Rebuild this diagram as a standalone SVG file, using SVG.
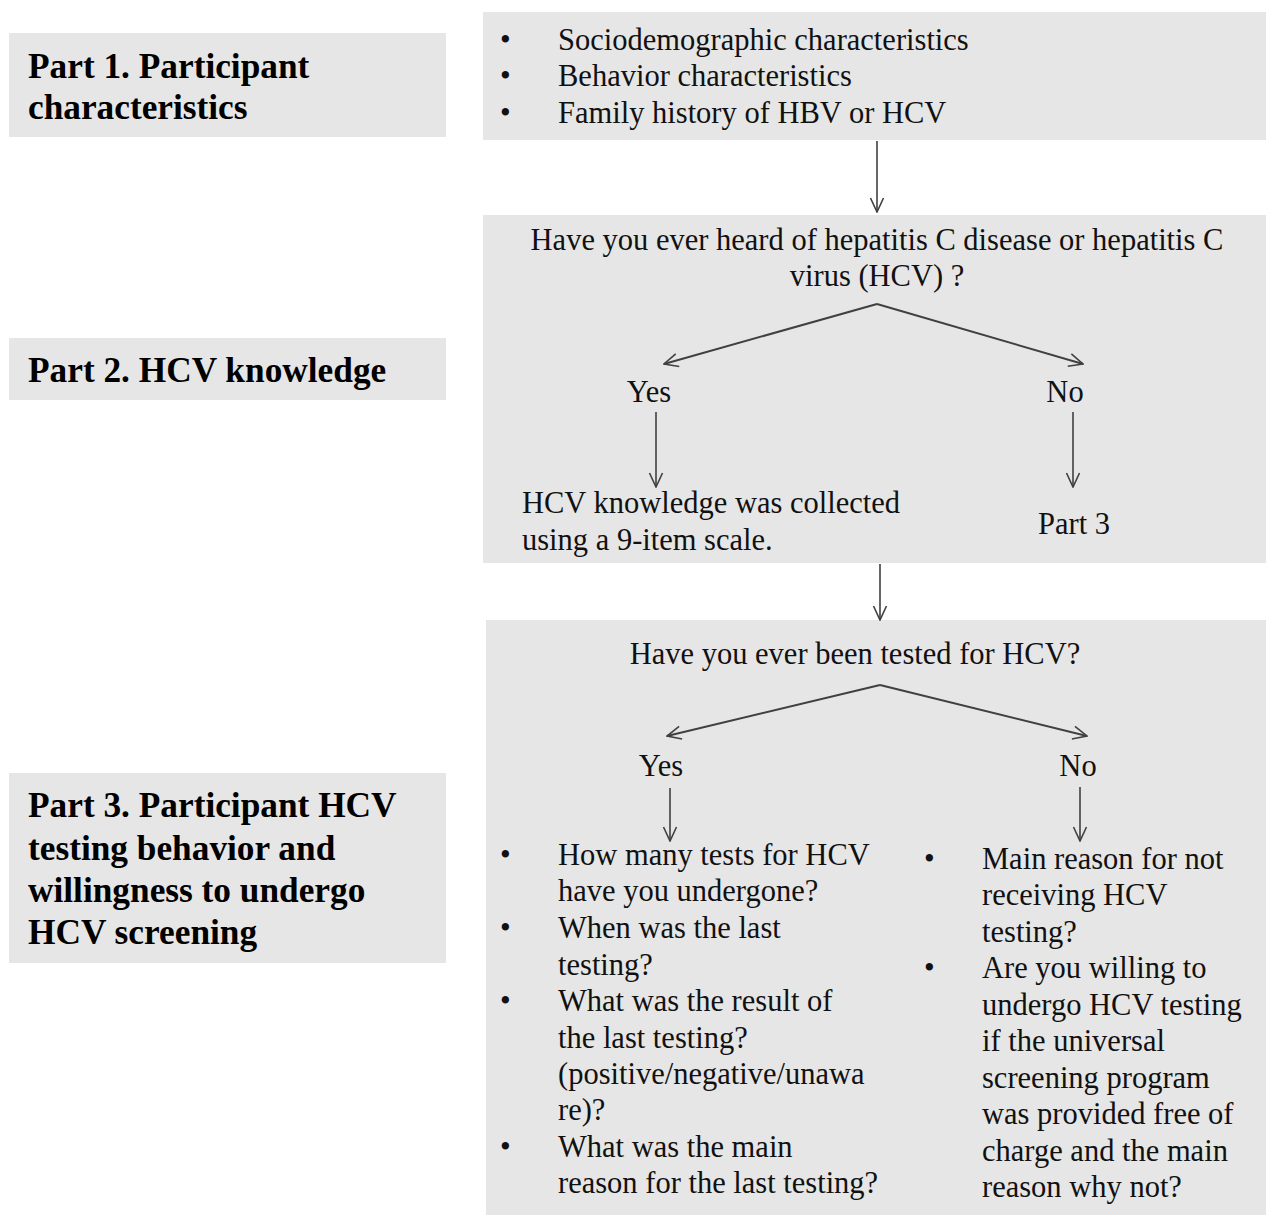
<svg xmlns="http://www.w3.org/2000/svg" width="1266" height="1215" viewBox="0 0 1266 1215">
<style>
.box{fill:#e6e6e6;stroke:none}
.h{font-family:"Liberation Serif","Times New Roman",serif;font-weight:bold;font-size:35.3px;fill:#000}
.t{font-family:"Liberation Serif","Times New Roman",serif;font-size:30.5px;fill:#111}
.c{text-anchor:middle}
.ln{stroke:#404040;stroke-width:1.6;fill:none}
.dg{stroke:#404040;stroke-width:2;fill:none}
</style>
<defs>
<marker id="ah" viewBox="0 0 16 16" refX="15" refY="8" markerWidth="16" markerHeight="16" markerUnits="userSpaceOnUse" orient="auto">
<path d="M1,1.5 L15,8 L1,14.5" fill="none" stroke="#404040" stroke-width="1.6"/>
</marker>
</defs>
<rect width="1266" height="1215" fill="#fff"/>
<g id="part1">
<rect class="box" x="9" y="33" width="437" height="104"/>
<text class="h" x="28" y="78">Part 1. Participant</text>
<text class="h" x="28" y="119">characteristics</text>
</g>
<g id="part2">
<rect class="box" x="9" y="338" width="437" height="62"/>
<text class="h" x="28" y="382">Part 2. HCV knowledge</text>
</g>
<g id="part3">
<rect class="box" x="9" y="773" width="437" height="190"/>
<text class="h" x="28" y="817">Part 3. Participant HCV</text>
<text class="h" x="28" y="860">testing behavior and</text>
<text class="h" x="28" y="902">willingness to undergo</text>
<text class="h" x="28" y="944">HCV screening</text>
</g>
<g id="characteristics">
<rect class="box" x="483" y="12" width="783" height="128"/>
<text class="t" x="500" y="50">•</text><text class="t" x="558" y="50">Sociodemographic characteristics</text>
<text class="t" x="500" y="86">•</text><text class="t" x="558" y="86">Behavior characteristics</text>
<text class="t" x="500" y="123">•</text><text class="t" x="558" y="123">Family history of HBV or HCV</text>
</g>
<g id="knowledge">
<rect class="box" x="483" y="215" width="783" height="348"/>
<text class="t c" x="877" y="250">Have you ever heard of hepatitis C disease or hepatitis C</text>
<text class="t c" x="877" y="286">virus (HCV) ?</text>
<text class="t c" x="649" y="402">Yes</text>
<text class="t c" x="1065" y="402">No</text>
<text class="t" x="522" y="513">HCV knowledge was collected</text>
<text class="t" x="522" y="550">using a 9-item scale.</text>
<text class="t c" x="1074" y="534">Part 3</text>
</g>
<g id="testing">
<rect class="box" x="486" y="620" width="780" height="595"/>
<text class="t c" x="855" y="664">Have you ever been tested for HCV?</text>
<text class="t c" x="661" y="776">Yes</text>
<text class="t c" x="1078" y="776">No</text>
<g id="yes-list">
<text class="t" x="500" y="865">•</text><text class="t" x="558" y="865">How many tests for HCV</text>
<text class="t" x="558" y="901">have you undergone?</text>
<text class="t" x="500" y="938">•</text><text class="t" x="558" y="938">When was the last</text>
<text class="t" x="558" y="975">testing?</text>
<text class="t" x="500" y="1011">•</text><text class="t" x="558" y="1011">What was the result of</text>
<text class="t" x="558" y="1048">the last testing?</text>
<text class="t" x="558" y="1084">(positive/negative/unawa</text>
<text class="t" x="558" y="1120">re)?</text>
<text class="t" x="500" y="1157">•</text><text class="t" x="558" y="1157">What was the main</text>
<text class="t" x="558" y="1193">reason for the last testing?</text>
</g>
<g id="no-list">
<text class="t" x="924" y="869">•</text><text class="t" x="982" y="869">Main reason for not</text>
<text class="t" x="982" y="905">receiving HCV</text>
<text class="t" x="982" y="942">testing?</text>
<text class="t" x="924" y="978">•</text><text class="t" x="982" y="978">Are you willing to</text>
<text class="t" x="982" y="1015">undergo HCV testing</text>
<text class="t" x="982" y="1051">if the universal</text>
<text class="t" x="982" y="1088">screening program</text>
<text class="t" x="982" y="1124">was provided free of</text>
<text class="t" x="982" y="1161">charge and the main</text>
<text class="t" x="982" y="1197">reason why not?</text>
</g>
</g>
<g id="connectors">
<line class="ln" x1="877" y1="141" x2="877" y2="212" marker-end="url(#ah)"/>
<line class="dg" x1="877" y1="304" x2="664" y2="364" marker-end="url(#ah)"/>
<line class="dg" x1="877" y1="304" x2="1083" y2="364" marker-end="url(#ah)"/>
<line class="ln" x1="656" y1="412" x2="656" y2="487" marker-end="url(#ah)"/>
<line class="ln" x1="1073" y1="412" x2="1073" y2="487" marker-end="url(#ah)"/>
<line class="ln" x1="880" y1="564" x2="880" y2="620" marker-end="url(#ah)"/>
<line class="dg" x1="880" y1="685" x2="667" y2="736" marker-end="url(#ah)"/>
<line class="dg" x1="880" y1="685" x2="1087" y2="736" marker-end="url(#ah)"/>
<line class="ln" x1="670" y1="788" x2="670" y2="841" marker-end="url(#ah)"/>
<line class="ln" x1="1080" y1="787" x2="1080" y2="841" marker-end="url(#ah)"/>
</g>
</svg>
